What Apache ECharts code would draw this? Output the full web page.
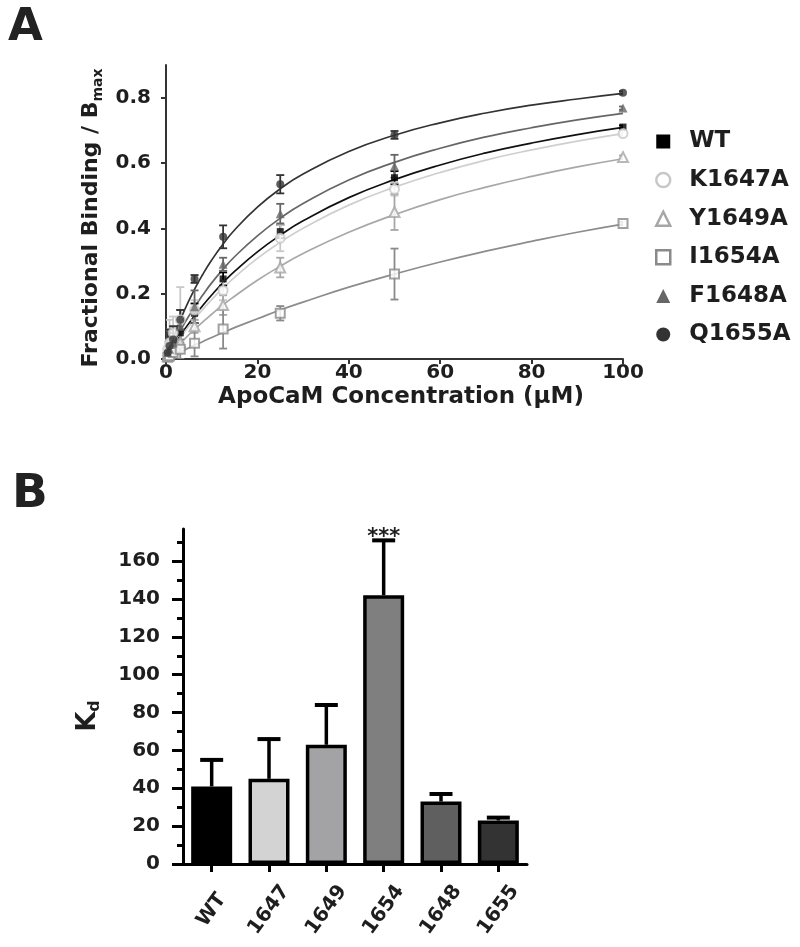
<!DOCTYPE html>
<html><head><meta charset="utf-8">
<script src="https://cdn.jsdelivr.net/npm/echarts@6/dist/echarts.min.js"></script>
<style>html,body{margin:0;padding:0;background:#fff}#c{width:800px;height:947px}</style>
</head><body><div id="c"></div>
<script>
// ---------- Panel A data ----------
const conc = [0.39, 0.78, 1.56, 3.125, 6.25, 12.5, 25, 50, 100];
const seriesNames = ['WT', 'K1647A', 'Y1649A', 'I1654A', 'F1648A', 'Q1655A'];
const meanWT  = [0.01, 0.02, 0.04, 0.08, 0.14, 0.245, 0.39, 0.555, 0.71];
const errWT   = [0.04, 0.04, 0.03, 0.04, 0.03, 0.02, 0.02, 0.02, 0.005];
const meanK   = [0.03, 0.05, 0.08, 0.12, 0.15, 0.21, 0.37, 0.52, 0.69];
const errK    = [0.06, 0.07, 0.05, 0.10, 0.03, 0.03, 0.04, 0.02, 0.005];
const meanY   = [0.01, 0.02, 0.03, 0.05, 0.10, 0.165, 0.28, 0.45, 0.618];
const errY    = [0.02, 0.02, 0.02, 0.03, 0.02, 0.03, 0.03, 0.055, 0.005];
const meanI   = [0.005, 0.01, 0.02, 0.03, 0.048, 0.092, 0.14, 0.26, 0.415];
const errI    = [0.02, 0.02, 0.02, 0.03, 0.04, 0.06, 0.022, 0.078, 0.005];
const meanF   = [0.02, 0.03, 0.05, 0.10, 0.16, 0.29, 0.445, 0.59, 0.768];
const errF    = [0.07, 0.05, 0.05, 0.05, 0.05, 0.02, 0.03, 0.035, 0.005];
const meanQ   = [0.02, 0.04, 0.06, 0.12, 0.245, 0.374, 0.535, 0.686, 0.815];
const errQ    = [0.06, 0.05, 0.04, 0.03, 0.012, 0.035, 0.028, 0.012, 0.005];

// fitted curves
const curveX  = [0, 2, 4, 6, 8, 10, 12.5, 15, 20, 25, 30, 40, 50, 60, 70, 80, 90, 100];
const curveWT = [0, 0.047, 0.089, 0.128, 0.163, 0.196, 0.234, 0.268, 0.328, 0.379, 0.423, 0.494, 0.549, 0.594, 0.631, 0.661, 0.687, 0.709];
const curveK  = [0, 0.043, 0.082, 0.118, 0.151, 0.182, 0.217, 0.250, 0.308, 0.357, 0.400, 0.471, 0.526, 0.571, 0.609, 0.640, 0.667, 0.690];
const curveY  = [0, 0.031, 0.060, 0.087, 0.113, 0.137, 0.166, 0.192, 0.241, 0.284, 0.323, 0.388, 0.442, 0.488, 0.526, 0.559, 0.588, 0.613];
const curveI  = [0, 0.014, 0.027, 0.041, 0.053, 0.066, 0.081, 0.096, 0.123, 0.150, 0.174, 0.220, 0.260, 0.297, 0.330, 0.360, 0.388, 0.413];
const curveF  = [0, 0.057, 0.108, 0.154, 0.195, 0.233, 0.275, 0.313, 0.377, 0.431, 0.476, 0.548, 0.602, 0.645, 0.680, 0.708, 0.732, 0.752];
const curveQ  = [0, 0.080, 0.148, 0.207, 0.258, 0.303, 0.352, 0.395, 0.465, 0.521, 0.566, 0.635, 0.685, 0.723, 0.753, 0.777, 0.796, 0.813];

const xTicksA = [0, 20, 40, 60, 80, 100];
const yTicksA = [0, 0.2, 0.4, 0.6, 0.8];

// ---------- Panel B data ----------
const kdCategories = ['WT', '1647', '1649', '1654', '1648', '1655'];
const kdValues = [41, 45, 63, 142, 33, 23];
const kdErrors = [14, 21, 21, 29, 4, 1.5];
const kdSig = ['', '', '', '***', '', ''];
const kdMajorTicks = [0, 20, 40, 60, 80, 100, 120, 140, 160];
const kdMinorTicks = [0, 10, 20, 30, 40, 50, 60, 70, 80, 90, 100, 110, 120, 130, 140, 150, 160, 170];

// ---------- styles ----------
const FONT = 'DejaVu Sans';
const TXT = '#1e1e1e';
const groupsA = [
  {name: 'WT',     mean: meanWT, err: errWT, curve: curveWT, color: '#000000', line: '#111111', symbol: 'rect',     size: 7,  fill: '#000000', bw: 0},
  {name: 'K1647A', mean: meanK,  err: errK,  curve: curveK,  color: '#c8c8c8', line: '#cfcfcf', symbol: 'circle',   size: 9,  fill: '#ffffff', bw: 2},
  {name: 'Y1649A', mean: meanY,  err: errY,  curve: curveY,  color: '#a6a6a6', line: '#a8a8a8', symbol: 'triangle', size: 10, fill: '#ffffff', bw: 2},
  {name: 'I1654A', mean: meanI,  err: errI,  curve: curveI,  color: '#8a8a8a', line: '#8c8c8c', symbol: 'rect',     size: 9,  fill: '#ffffff', bw: 2},
  {name: 'F1648A', mean: meanF,  err: errF,  curve: curveF,  color: '#666666', line: '#666666', symbol: 'triangle', size: 9,  fill: '#666666', bw: 0},
  {name: 'Q1655A', mean: meanQ,  err: errQ,  curve: curveQ,  color: '#333333', line: '#333333', symbol: 'circle',   size: 8,  fill: '#333333', bw: 0}
];
const kdColors = ['#000000', '#d3d3d3', '#a3a3a6', '#7f7f7f', '#5f5f5f', '#333333'];

const series = [];
groupsA.forEach(g => {
  series.push({
    name: g.name, type: 'line', xAxisIndex: 0, yAxisIndex: 0, z: 2,
    data: curveX.map((x, i) => [x, g.curve[i]]),
    smooth: 0.5, showSymbol: false, silent: true,
    lineStyle: {color: g.line, width: 1.7}, itemStyle: {color: g.color}
  });
});
groupsA.forEach(g => {
  series.push({
    name: g.name, type: 'custom', xAxisIndex: 0, yAxisIndex: 0, z: 3, clip: true, silent: true,
    data: conc.map((x, i) => [x, g.mean[i] - g.err[i], g.mean[i] + g.err[i]]),
    renderItem: function (params, api) {
      const lo = api.coord([api.value(0), Math.max(0, api.value(1))]);
      const hi = api.coord([api.value(0), api.value(2)]);
      const st = {stroke: g.color, lineWidth: 1.8};
      return {type: 'group', children: [
        {type: 'line', shape: {x1: lo[0], y1: lo[1], x2: hi[0], y2: hi[1]}, style: st},
        {type: 'line', shape: {x1: hi[0] - 4, y1: hi[1], x2: hi[0] + 4, y2: hi[1]}, style: st},
        {type: 'line', shape: {x1: lo[0] - 4, y1: lo[1], x2: lo[0] + 4, y2: lo[1]}, style: st}
      ]};
    }
  });
});
groupsA.forEach(g => {
  series.push({
    name: g.name, type: 'scatter', xAxisIndex: 0, yAxisIndex: 0, z: 4, silent: true,
    data: conc.map((x, i) => [x, g.mean[i]]),
    symbol: g.symbol, symbolSize: g.size,
    itemStyle: {color: g.fill, borderColor: g.color, borderWidth: g.bw}
  });
});
// Panel B
series.push({
  name: 'Kd', type: 'bar', xAxisIndex: 1, yAxisIndex: 1, z: 2, silent: true,
  barWidth: 41,
  data: kdValues.map((v, i) => ({value: v, itemStyle: {color: kdColors[i]}})),
  itemStyle: {borderColor: '#000', borderWidth: 3.5}
});
series.push({
  name: 'KdErr', type: 'custom', xAxisIndex: 1, yAxisIndex: 1, z: 3, silent: true,
  data: kdValues.map((v, i) => [i, v, kdErrors[i]]),
  renderItem: function (params, api) {
    const i = api.value(0), v = api.value(1), e = api.value(2);
    const p0 = api.coord([i, v]);
    const p1 = api.coord([i, v + e]);
    const ch = [
      {type: 'line', shape: {x1: p0[0], y1: p0[1], x2: p1[0], y2: p1[1]}, style: {stroke: '#000', lineWidth: 3.5}},
      {type: 'line', shape: {x1: p1[0] - 11.5, y1: p1[1], x2: p1[0] + 11.5, y2: p1[1]}, style: {stroke: '#000', lineWidth: 4}}
    ];
    const s = kdSig[params.dataIndex];
    if (s) ch.push({type: 'text', x: p1[0], y: p1[1] + 8, style: {text: s, fontFamily: FONT, fontWeight: 'bold', fontSize: 21, fill: TXT, align: 'center', verticalAlign: 'bottom'}});
    return {type: 'group', children: ch};
  }
});

const labelStyle = {fontFamily: FONT, fontWeight: 'bold', fontSize: 20, color: TXT};
const legendIcon = {
  'WT': {icon: 'rect', itemStyle: {color: '#000', borderWidth: 0}},
  'K1647A': {icon: 'circle', itemStyle: {color: '#fff', borderColor: '#c8c8c8', borderWidth: 2.5}},
  'Y1649A': {icon: 'triangle', itemStyle: {color: '#fff', borderColor: '#a6a6a6', borderWidth: 2.5}},
  'I1654A': {icon: 'rect', itemStyle: {color: '#fff', borderColor: '#8a8a8a', borderWidth: 2.5}},
  'F1648A': {icon: 'triangle', itemStyle: {color: '#666', borderWidth: 0}},
  'Q1655A': {icon: 'circle', itemStyle: {color: '#333', borderWidth: 0}}
};

const option = {
  backgroundColor: '#fff',
  animation: false,
  grid: [
    {left: 166, top: 65, width: 457, height: 294, outerBoundsMode: 'none', containLabel: false},
    {left: 183, top: 529, width: 344, height: 335, outerBoundsMode: 'none', containLabel: false}
  ],
  legend: {
    orient: 'vertical', left: 655, top: 130, itemWidth: 14, itemHeight: 14, itemGap: 15.6,
    selectedMode: false, padding: 0,
    textStyle: {fontFamily: FONT, fontWeight: 'bold', fontSize: 23, lineHeight: 23, color: TXT, padding: [0, 0, 0, 14]},
    data: seriesNames.map(n => Object.assign({name: n}, legendIcon[n]))
  },
  xAxis: [
    {type: 'value', gridIndex: 0, min: 0, max: 100,
     axisLine: {show: true, onZero: false, lineStyle: {color: '#333', width: 2}},
     axisTick: {show: true, length: 5, customValues: xTicksA, lineStyle: {color: '#333', width: 2}},
     axisLabel: Object.assign({customValues: xTicksA, margin: 4}, labelStyle),
     splitLine: {show: false}},
    {type: 'category', gridIndex: 1, data: kdCategories, boundaryGap: true,
     axisLine: {show: true, onZero: false, lineStyle: {color: '#000', width: 3}},
     axisTick: {show: true, alignWithLabel: true, length: 8, lineStyle: {color: '#000', width: 3}},
     axisLabel: Object.assign({rotate: 54, margin: 46, interval: 0, align: 'center', verticalAlign: 'middle'}, labelStyle),
     splitLine: {show: false}}
  ],
  yAxis: [
    {type: 'value', gridIndex: 0, min: 0, max: 0.9, position: 'left',
     axisLine: {show: true, onZero: false, lineStyle: {color: '#333', width: 2}},
     axisTick: {show: true, length: 5, customValues: yTicksA, lineStyle: {color: '#333', width: 2}},
     axisLabel: Object.assign({customValues: yTicksA, margin: 15, formatter: v => v.toFixed(1)}, labelStyle),
     splitLine: {show: false}},
    {type: 'value', gridIndex: 1, min: 0, max: 177, position: 'left',
     axisLine: {show: true, onZero: false, lineStyle: {color: '#000', width: 3}},
     axisTick: {show: true, length: 6, customValues: kdMinorTicks, lineStyle: {color: '#000', width: 3}},
     axisLabel: {show: false},
     splitLine: {show: false}},
    {type: 'value', gridIndex: 1, min: 0, max: 177, position: 'left', offset: 0,
     axisLine: {show: false},
     axisTick: {show: true, length: 11, customValues: kdMajorTicks, lineStyle: {color: '#000', width: 3}},
     axisLabel: Object.assign({customValues: kdMajorTicks, margin: 23}, labelStyle),
     splitLine: {show: false}}
  ],
  graphic: [
    {type: 'text', left: 8, top: 6, style: {text: 'A', fontFamily: FONT, fontWeight: 'bold', fontSize: 45, fill: '#222'}},
    {type: 'text', left: 12, top: 471, style: {text: 'B', fontFamily: FONT, fontWeight: 'bold', fontSize: 47, fill: '#222'}},
    {type: 'text', x: 401, y: 397, style: {text: 'ApoCaM Concentration (µM)', fontFamily: FONT, fontWeight: 'bold', fontSize: 23, fill: TXT, align: 'center', verticalAlign: 'middle'}},
    {type: 'text', x: 91, y: 218, rotation: Math.PI / 2,
     style: {text: '{a|Fractional Binding / B}{s|max}', align: 'center', verticalAlign: 'middle', fill: TXT,
       rich: {a: {fontFamily: FONT, fontWeight: 'bold', fontSize: 22, lineHeight: 28, fill: TXT},
              s: {fontFamily: FONT, fontWeight: 'bold', fontSize: 14, lineHeight: 14, verticalAlign: 'bottom', fill: TXT}}}},
    {type: 'text', x: 88, y: 716, rotation: Math.PI / 2,
     style: {text: '{a|K}{s|d}', align: 'center', verticalAlign: 'middle', fill: TXT,
       rich: {a: {fontFamily: FONT, fontWeight: 'bold', fontSize: 26, lineHeight: 30, fill: TXT},
              s: {fontFamily: FONT, fontWeight: 'bold', fontSize: 16, lineHeight: 16, verticalAlign: 'bottom', fill: TXT}}}}
  ],
  series: series
};
const chart = echarts.init(document.getElementById('c'), null, {renderer: 'canvas'});
chart.setOption(option);
</script>
</body></html>
